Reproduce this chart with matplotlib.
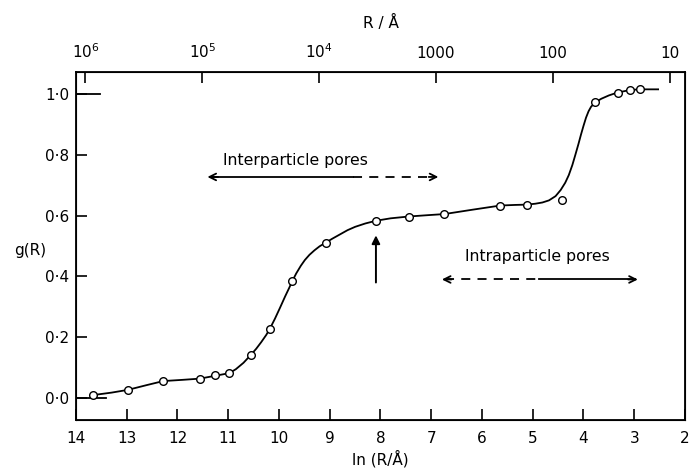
import numpy as np
import matplotlib
matplotlib.use("Agg")
import matplotlib.pyplot as plt

# measured points, ln(R/A) vs g(R)
ln_points = [13.66, 12.98, 12.28, 11.56, 11.27, 10.98, 10.56, 10.17, 9.74, 9.08,
             8.09, 7.44, 6.74, 5.64, 5.12, 4.43, 3.77, 3.33, 3.08, 2.89]
g_points = [0.010, 0.026, 0.057, 0.062, 0.075, 0.081, 0.141, 0.228, 0.384, 0.511,
            0.583, 0.596, 0.604, 0.633, 0.635, 0.652, 0.972, 1.004, 1.013, 1.015]

# smooth curve
ln_curve = [13.66, 13.3, 12.98, 12.6, 12.28, 11.9, 11.56, 11.27, 10.98, 10.85,
            10.70, 10.56, 10.45, 10.35, 10.25, 10.18, 10.08, 9.98, 9.88, 9.80,
            9.74, 9.66, 9.57, 9.49, 9.40, 9.30, 9.20, 9.08, 8.95, 8.80,
            8.65, 8.50, 8.30, 8.09, 7.80, 7.44, 7.10, 6.74, 6.20, 5.64,
            5.35, 5.12, 4.95, 4.81, 4.68, 4.55, 4.45, 4.36, 4.29, 4.22,
            4.16, 4.10, 4.05, 4.00, 3.95, 3.90, 3.85, 3.77, 3.65, 3.50,
            3.34, 3.08, 2.89, 2.53]
g_curve = [0.010, 0.018, 0.027, 0.043, 0.056, 0.060, 0.064, 0.073, 0.082, 0.095,
           0.116, 0.141, 0.162, 0.184, 0.208, 0.228, 0.261, 0.297, 0.334, 0.362,
           0.384, 0.410, 0.435, 0.454, 0.471, 0.486, 0.499, 0.511, 0.524, 0.538,
           0.552, 0.563, 0.574, 0.583, 0.591, 0.597, 0.601, 0.605, 0.619, 0.633,
           0.635, 0.636, 0.639, 0.643, 0.650, 0.664, 0.684, 0.708, 0.733, 0.766,
           0.800, 0.835, 0.866, 0.895, 0.922, 0.943, 0.958, 0.972, 0.984, 0.995,
           1.004, 1.013, 1.015, 1.015]

x_ticks = [14, 13, 12, 11, 10, 9, 8, 7, 6, 5, 4, 3, 2]
y_ticks = [0.0, 0.2, 0.4, 0.6, 0.8, 1.0]
y_labels = ["0\u00b70", "0\u00b72", "0\u00b74", "0\u00b76", "0\u00b78", "1\u00b70"]
R_ticks = [1e6, 1e5, 1e4, 1000, 100, 10]
R_labels = ["$10^6$", "$10^5$", "$10^4$", "1000", "100", "10"]

plt.rcParams['font.family'] = ['DejaVu Sans']
plt.rcParams['mathtext.default'] = 'regular'

fig = plt.figure(figsize=(6.93, 4.72), dpi=100)
ax = fig.add_axes([76/693, 1-420/472, (685-76)/693, (420-72)/472])

ax.plot(ln_curve, g_curve, color='black', lw=1.3, zorder=2)
ax.plot(ln_points, g_points, 'o', ms=5.5, mfc='white', mec='black', mew=1.0, zorder=3)

ax.set_xlim(14, 2)
ax.set_ylim(-0.072, 1.072)

for s in ax.spines.values():
    s.set_linewidth(1.3)

ax.set_xticks(x_ticks)
ax.set_xticklabels([str(t) for t in x_ticks], fontsize=11)
ax.set_yticks(y_ticks)
ax.set_yticklabels(y_labels, fontsize=11)
ax.tick_params(axis='x', direction='in', length=8, width=1.2, pad=8)
ax.tick_params(axis='y', direction='in', length=8, width=1.2, pad=5)

# longer ticks at 0 and 1
ax.axhline(1.0, xmin=0, xmax=0.04, color='black', lw=1.3)
ax.axhline(0.0, xmin=0, xmax=0.05, color='black', lw=1.3)

top = ax.twiny()
top.set_xlim(ax.get_xlim())
top.set_xticks(np.log(R_ticks))
top.set_xticklabels(R_labels, fontsize=11)
top.tick_params(axis='x', direction='in', length=8, width=1.2, pad=8)
top.set_xlabel("R / \u00c5", fontsize=11, labelpad=10)

ax.set_xlabel("ln (R/\u00c5)", fontsize=11, labelpad=3)
fig.text(30/693, 1-250/472, "g(R)", fontsize=11, ha='center', va='center')

# arrow marking the boundary
ax.annotate('', xy=(8.09, 0.535), xytext=(8.09, 0.38),
            arrowprops=dict(arrowstyle='-|>', lw=1.4, color='black',
                            mutation_scale=12, shrinkA=0, shrinkB=0))

# interparticle pores
ax.text(9.68, 0.78, "Interparticle pores", fontsize=11.3, ha='center', va='center')
ax.plot([11.35, 8.54], [0.727, 0.727], color='black', lw=1.3)
ax.plot([8.54, 6.92], [0.727, 0.727], color='black', lw=1.3, ls=(0, (5, 4)))
ax.annotate('', xy=(11.41, 0.727), xytext=(11.2, 0.727),
            arrowprops=dict(arrowstyle='->', lw=1.3, color='black',
                            mutation_scale=12, shrinkA=0, shrinkB=0))
ax.annotate('', xy=(6.86, 0.727), xytext=(7.05, 0.727),
            arrowprops=dict(arrowstyle='->', lw=1.3, color='black',
                            mutation_scale=12, shrinkA=0, shrinkB=0))

# intraparticle pores
ax.text(4.9, 0.464, "Intraparticle pores", fontsize=11.3, ha='center', va='center')
ax.plot([6.73, 4.88], [0.39, 0.39], color='black', lw=1.3, ls=(0, (5, 4)))
ax.plot([4.88, 2.99], [0.39, 0.39], color='black', lw=1.3)
ax.annotate('', xy=(6.79, 0.39), xytext=(6.6, 0.39),
            arrowprops=dict(arrowstyle='->', lw=1.3, color='black',
                            mutation_scale=12, shrinkA=0, shrinkB=0))
ax.annotate('', xy=(2.93, 0.39), xytext=(3.12, 0.39),
            arrowprops=dict(arrowstyle='->', lw=1.3, color='black',
                            mutation_scale=12, shrinkA=0, shrinkB=0))

fig.savefig("out.png", dpi=100)
